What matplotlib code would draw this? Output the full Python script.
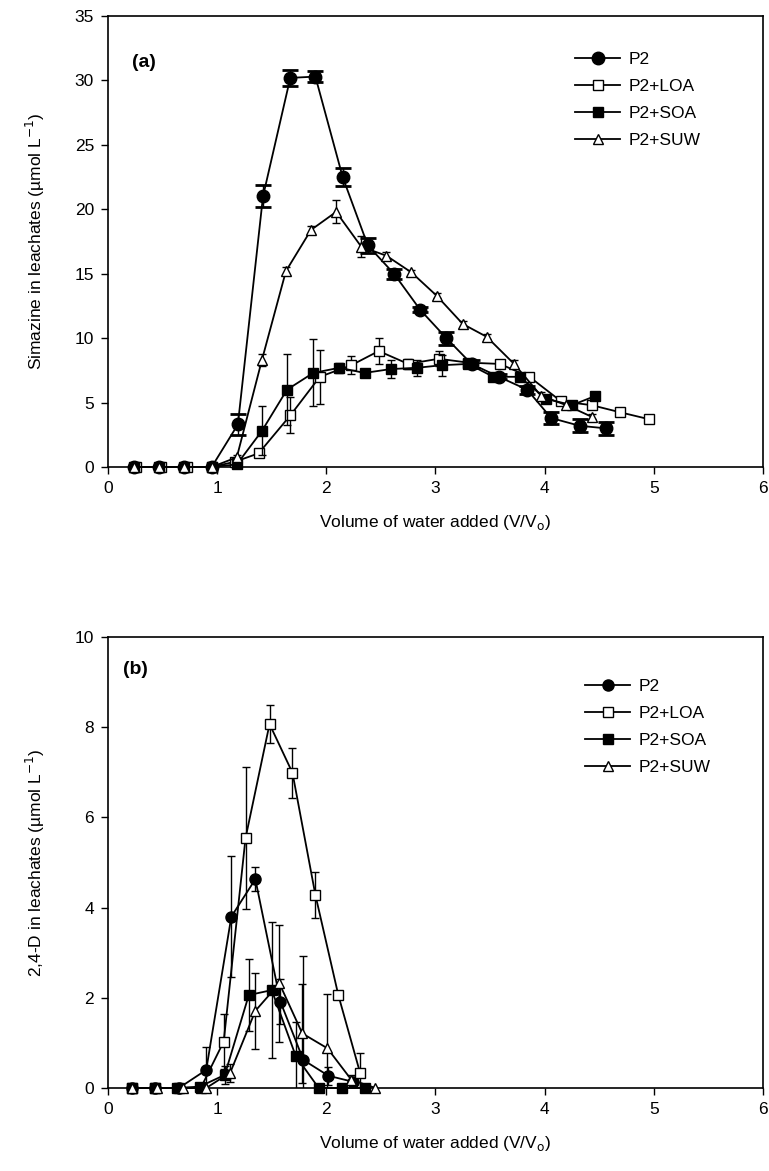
#!/usr/bin/env python3
import numpy as np
import matplotlib
matplotlib.use("Agg")
import matplotlib.pyplot as plt

plt.rcParams['font.family'] = ['Liberation Sans', 'DejaVu Sans']
plt.rcParams['font.size'] = 12.5

labels = ['P2', 'P2+LOA', 'P2+SOA', 'P2+SUW']

# panel (a) simazine
a_p2_x = [0.24, 0.47, 0.70, 0.95, 1.19, 1.42, 1.67, 1.90, 2.15, 2.38, 2.62, 2.86, 3.10, 3.33, 3.58, 3.84, 4.06, 4.32, 4.56]
a_p2_y = [0, 0, 0, 0, 3.3, 21.0, 30.2, 30.3, 22.5, 17.2, 15.0, 12.2, 10.0, 8.0, 7.0, 6.0, 3.8, 3.2, 3.0]
a_p2_e = [0, 0, 0, 0, 0.8, 0.85, 0.6, 0.45, 0.7, 0.6, 0.4, 0.2, 0.5, 0.3, 0.2, 0.3, 0.5, 0.5, 0.5]

a_loa_x = [0.26, 0.49, 0.72, 0.95, 1.16, 1.38, 1.67, 1.94, 2.23, 2.48, 2.75, 3.03, 3.30, 3.59, 3.86, 4.15, 4.43, 4.69, 4.96]
a_loa_y = [0, 0, 0, 0, 0.4, 1.06, 4.0, 7.0, 7.9, 9.0, 8.0, 8.4, 8.1, 8.0, 7.0, 5.1, 4.8, 4.25, 3.7]
a_loa_e = [0, 0, 0, 0, 0.3, 0.3, 1.4, 2.1, 0.7, 1.0, 0.4, 0.6, 0.3, 0.3, 0.2, 0.3, 0.3, 0.2, 0.2]

a_soa_x = [0.24, 0.47, 0.70, 0.95, 1.18, 1.41, 1.64, 1.88, 2.12, 2.35, 2.59, 2.83, 3.06, 3.30, 3.53, 3.77, 4.01, 4.25, 4.46]
a_soa_y = [0, 0, 0, 0, 0.2, 2.8, 6.0, 7.3, 7.7, 7.3, 7.6, 7.7, 7.9, 8.0, 7.0, 7.0, 5.3, 4.8, 5.5]
a_soa_e = [0, 0, 0, 0, 0.2, 1.9, 2.75, 2.6, 0.4, 0.2, 0.7, 0.6, 0.8, 0.2, 0.2, 0.2, 0.3, 0.2, 0.2]

a_suw_x = [0.24, 0.47, 0.70, 0.95, 1.18, 1.41, 1.63, 1.86, 2.09, 2.32, 2.55, 2.78, 3.01, 3.25, 3.47, 3.72, 3.97, 4.20, 4.43]
a_suw_y = [0, 0, 0, 0, 0.75, 8.3, 15.2, 18.4, 19.8, 17.1, 16.4, 15.1, 13.3, 11.1, 10.1, 8.0, 5.5, 4.8, 3.9]
a_suw_e = [0, 0, 0, 0, 0.2, 0.5, 0.3, 0.3, 0.9, 0.8, 0.3, 0.2, 0.2, 0.2, 0.2, 0.3, 0.3, 0.2, 0.2]

# panel (b) 2,4-D
b_p2_x = [0.22, 0.43, 0.65, 0.90, 1.13, 1.35, 1.58, 1.79, 2.02, 2.24]
b_p2_y = [0, 0, 0, 0.4, 3.8, 4.63, 1.91, 0.62, 0.27, 0.14]
b_p2_e = [0, 0, 0, 0.5, 1.35, 0.27, 0.5, 2.3, 0.2, 0.1]

b_loa_x = [0.22, 0.43, 0.65, 0.85, 1.06, 1.26, 1.48, 1.69, 1.90, 2.11, 2.31]
b_loa_y = [0, 0, 0, 0, 1.03, 5.54, 8.07, 6.99, 4.28, 2.06, 0.33]
b_loa_e = [0, 0, 0, 0, 0.6, 1.58, 0.43, 0.55, 0.52, 0.08, 0.45]

b_soa_x = [0.22, 0.43, 0.63, 0.84, 1.07, 1.29, 1.50, 1.72, 1.93, 2.14, 2.35]
b_soa_y = [0, 0, 0, 0.03, 0.29, 2.06, 2.17, 0.71, 0, 0, 0]
b_soa_e = [0, 0, 0, 0, 0.2, 0.8, 1.5, 0.75, 0, 0, 0]

b_suw_x = [0.22, 0.45, 0.69, 0.90, 1.12, 1.35, 1.57, 1.78, 2.01, 2.23, 2.45]
b_suw_y = [0, 0, 0, 0, 0.34, 1.71, 2.32, 1.21, 0.88, 0.18, 0]
b_suw_e = [0, 0, 0, 0, 0.2, 0.85, 1.3, 1.1, 1.2, 0.1, 0]

styles = [
    dict(marker='o', mfc='black', mec='black'),
    dict(marker='s', mfc='white', mec='black'),
    dict(marker='s', mfc='black', mec='black'),
    dict(marker='^', mfc='white', mec='black'),
]


def draw_series(ax, x, y, e, style, label, ms, capsize, capthick, z):
    x = np.array(x)
    y = np.array(y)
    e = np.array(e)
    ax.plot(x, y, color='black', lw=1.3, ms=ms, label=label, clip_on=False,
            zorder=z, **style)
    m = e > 0
    ax.errorbar(x[m], y[m], yerr=e[m], fmt='none', ecolor='black',
                elinewidth=1.0, capsize=capsize, capthick=capthick, zorder=z - 1)


def setup_axes(ax, ymax, ystep, ylabel, tag, tag_x, tag_y):
    ax.set_xlim(0, 6)
    ax.set_ylim(0, ymax)
    ax.set_xticks(np.arange(0, 7, 1))
    ax.set_yticks(np.arange(0, ymax + 0.1, ystep))
    ax.tick_params(direction='out', length=5, width=1, pad=5, top=False, right=False)
    for sp in ax.spines.values():
        sp.set_linewidth(1.2)
    ax.set_xlabel('Volume of water added (V/V$_\\mathrm{o}$)', labelpad=12)
    ax.set_ylabel(ylabel, labelpad=20)
    ax.text(tag_x, tag_y, tag, transform=ax.transAxes, fontsize=14,
            fontweight='bold', va='center', ha='left')


fig = plt.figure(figsize=(7.69, 11.71), dpi=100)
ax_a = fig.add_axes([0.1404, 0.6012, 0.8518, 0.3851])
ax_b = fig.add_axes([0.1404, 0.0709, 0.8518, 0.3851])

a_data = [(a_p2_x, a_p2_y, a_p2_e), (a_loa_x, a_loa_y, a_loa_e),
          (a_soa_x, a_soa_y, a_soa_e), (a_suw_x, a_suw_y, a_suw_e)]
b_data = [(b_p2_x, b_p2_y, b_p2_e), (b_loa_x, b_loa_y, b_loa_e),
          (b_soa_x, b_soa_y, b_soa_e), (b_suw_x, b_suw_y, b_suw_e)]

for i, (x, y, e) in enumerate(a_data):
    ms = 9 if i == 0 else 7.5
    cap = 6 if i == 0 else 3
    ct = 2.0 if i == 0 else 1.0
    draw_series(ax_a, x, y, e, styles[i], labels[i], ms, cap, ct, 5 + i * 2)

for i, (x, y, e) in enumerate(b_data):
    ms = 8 if i == 0 else 7
    draw_series(ax_b, x, y, e, styles[i], labels[i], ms, 3, 1.0, 5 + i * 2)

setup_axes(ax_a, 35, 5, 'Simazine in leachates (\u00b5mol L$^{-1}$)', '(a)', 0.037, 0.898)
setup_axes(ax_b, 10, 2, '2,4-D in leachates (\u00b5mol L$^{-1}$)', '(b)', 0.023, 0.929)

for ax, bx, by in [(ax_a, 0.70, 0.94), (ax_b, 0.715, 0.927)]:
    ax.legend(loc='upper left', bbox_to_anchor=(bx, by), frameon=False,
              handlelength=2.6, handletextpad=0.5, labelspacing=0.68,
              borderpad=0, fontsize=12.5)

fig.savefig('out.png', dpi=100)
